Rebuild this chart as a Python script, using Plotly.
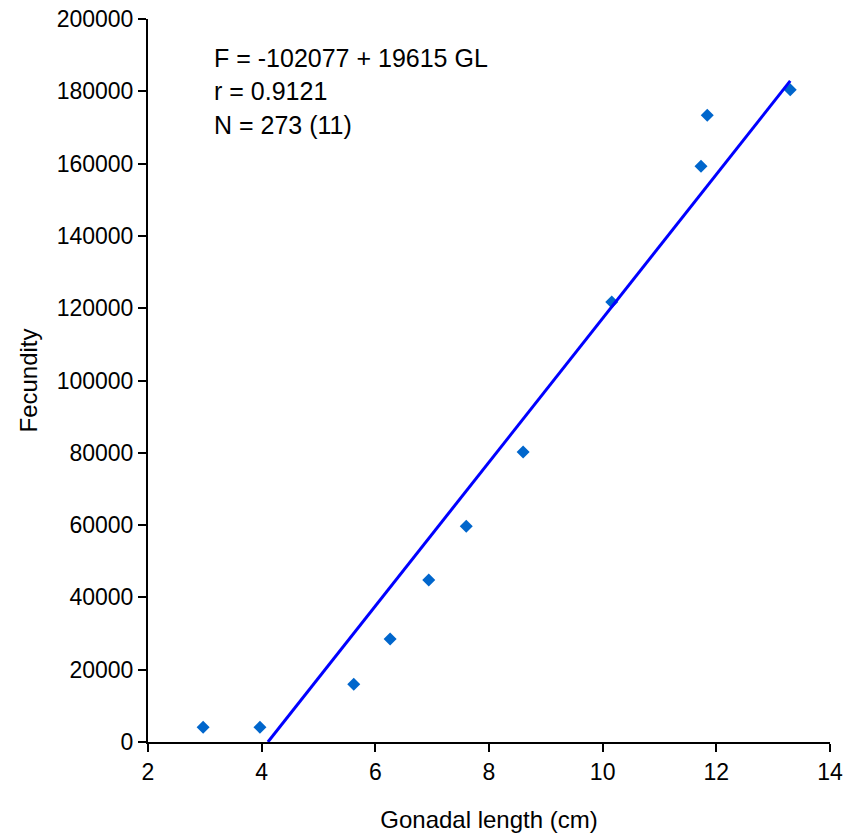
import plotly.graph_objects as go

# Data
gonadal_length = [2.97, 3.97, 5.62, 6.26, 6.94, 7.60, 8.60, 10.16, 11.73, 11.84, 13.30]
fecundity = [4100, 4100, 16000, 28500, 44800, 59700, 80200, 121700, 159300, 173400, 180400]

# Trend line as drawn (slope/intercept estimated from drawn line)
line_x = [4.11, 13.30]
line_slope = 19900
line_intercept = -81790
line_y = [line_intercept + line_slope * x for x in line_x]

x_ticks = [2, 4, 6, 8, 10, 12, 14]
y_ticks = [0, 20000, 40000, 60000, 80000, 100000, 120000, 140000, 160000, 180000, 200000]

annotation_lines = ["F = -102077 + 19615 GL", "r = 0.9121", "N = 273 (11)"]
annotation_ypos = [0.946, 0.900, 0.853]

font_family = "Liberation Sans, Arial, sans-serif"

fig = go.Figure()
fig.add_trace(go.Scatter(
    x=gonadal_length, y=fecundity, mode="markers",
    marker=dict(symbol="diamond", size=10, color="#0066CC"),
    showlegend=False,
))
fig.add_trace(go.Scatter(
    x=line_x, y=line_y, mode="lines",
    line=dict(color="#0000FF", width=3),
    showlegend=False,
))

for txt, yp in zip(annotation_lines, annotation_ypos):
    fig.add_annotation(
        x=0.094, y=yp, xref="paper", yref="paper",
        xanchor="left", yanchor="middle", align="left",
        text=txt, showarrow=False,
        font=dict(size=25, color="black", family=font_family),
    )

fig.update_layout(
    width=850, height=837,
    margin=dict(l=148, r=20, t=19, b=95),
    paper_bgcolor="white", plot_bgcolor="white",
    font=dict(family=font_family, size=23, color="black"),
)
fig.update_xaxes(
    range=[2, 14], tickvals=x_ticks, tickformat="d", showgrid=False, zeroline=False,
    showline=True, linecolor="black", linewidth=2, automargin=False,
    ticks="outside", ticklen=8, tickwidth=2, tickcolor="black",
    tickfont=dict(size=23),
    title=dict(text="Gonadal length (cm)", standoff=28, font=dict(size=24)),
)
fig.update_yaxes(
    range=[0, 200000], tickvals=y_ticks, tickformat="d", showgrid=False, zeroline=False,
    showline=True, linecolor="black", linewidth=2, automargin=False,
    ticks="outside", ticklen=8, tickwidth=2, tickcolor="black",
    tickfont=dict(size=23),
    title=dict(text="Fecundity", standoff=12, font=dict(size=24)),
)

fig.write_html("out.html")
